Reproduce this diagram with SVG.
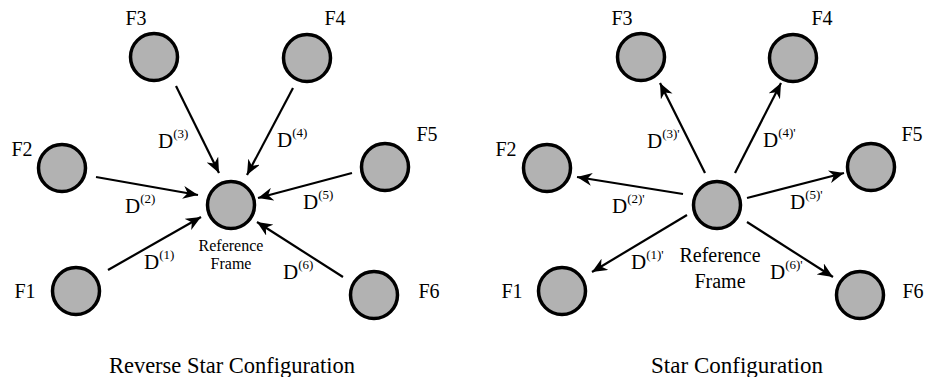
<svg xmlns="http://www.w3.org/2000/svg" width="927" height="377" viewBox="0 0 927 377">
<defs>
<style>
.node{fill:#b2b2b2;stroke:#000;stroke-width:3.5}
text{font-family:'Liberation Serif','Times New Roman','DejaVu Serif',serif;fill:#000}
.lbl{font-size:20px;text-anchor:middle}
.rf{font-size:16px;text-anchor:middle}
.d{font-size:21px}
.sup{font-size:13px}
.cap{font-size:22.5px;text-anchor:middle}
.edge{stroke:#000;stroke-width:2.2;fill:none;marker-end:url(#ah)}
</style>
<marker id="ah" markerUnits="userSpaceOnUse" markerWidth="16" markerHeight="13" refX="15" refY="6.5" orient="auto">
<path d="M0,0 L15,6.5 L0,13 L4.5,6.5 z" fill="#000"/>
</marker>
</defs>
<rect width="927" height="377" fill="#fff"/>

<g id="connectors">
<line class="edge" x1="176" y1="86" x2="219" y2="173"/>
<line class="edge" x1="293" y1="88" x2="247" y2="175"/>
<line class="edge" x1="96" y1="177" x2="198" y2="195"/>
<line class="edge" x1="352" y1="173" x2="258" y2="198"/>
<line class="edge" x1="108" y1="270" x2="201" y2="217"/>
<line class="edge" x1="343" y1="277" x2="257" y2="222"/>

<line class="edge" x1="705" y1="173" x2="660" y2="83"/>
<line class="edge" x1="735" y1="173" x2="781" y2="83"/>
<line class="edge" x1="683" y1="194" x2="577" y2="177"/>
<line class="edge" x1="747" y1="198" x2="844" y2="173"/>
<line class="edge" x1="687" y1="215" x2="592" y2="272"/>
<line class="edge" x1="747" y1="222" x2="833" y2="277"/>
</g>

<g id="L-center"><circle class="node" cx="231" cy="205" r="23.5"/>
<text class="rf" x="231" y="251">Reference</text>
<text class="rf" x="231" y="269">Frame</text></g>
<g id="L-F1"><circle class="node" cx="76" cy="291" r="23.5"/><text class="lbl" x="25" y="298">F1</text></g>
<g id="L-F2"><circle class="node" cx="62" cy="168" r="23.5"/><text class="lbl" x="22" y="156">F2</text></g>
<g id="L-F3"><circle class="node" cx="154" cy="57" r="23.5"/><text class="lbl" x="136" y="25">F3</text></g>
<g id="L-F4"><circle class="node" cx="307" cy="58" r="23.5"/><text class="lbl" x="335" y="25">F4</text></g>
<g id="L-F5"><circle class="node" cx="385" cy="167" r="23.5"/><text class="lbl" x="427" y="141">F5</text></g>
<g id="L-F6"><circle class="node" cx="374" cy="295" r="23.5"/><text class="lbl" x="429" y="298">F6</text></g>

<g id="L-labels">
<text class="d" x="158" y="148">D<tspan class="sup" dy="-10">(3)</tspan></text>
<text class="d" x="277" y="147">D<tspan class="sup" dy="-10">(4)</tspan></text>
<text class="d" x="125" y="213">D<tspan class="sup" dy="-10">(2)</tspan></text>
<text class="d" x="303" y="209">D<tspan class="sup" dy="-10">(5)</tspan></text>
<text class="d" x="144" y="269">D<tspan class="sup" dy="-10">(1)</tspan></text>
<text class="d" x="283" y="279">D<tspan class="sup" dy="-10">(6)</tspan></text>
</g>
<text class="cap" x="232" y="373">Reverse Star Configuration</text>

<g id="R-center"><circle class="node" cx="717" cy="205" r="23.5"/>
<text class="lbl" x="720" y="262">Reference</text>
<text class="lbl" x="720" y="288">Frame</text></g>
<g id="R-F1"><circle class="node" cx="562" cy="291" r="23.5"/><text class="lbl" x="512" y="298">F1</text></g>
<g id="R-F2"><circle class="node" cx="547" cy="168" r="23.5"/><text class="lbl" x="506" y="156">F2</text></g>
<g id="R-F3"><circle class="node" cx="641" cy="57" r="23.5"/><text class="lbl" x="622" y="25">F3</text></g>
<g id="R-F4"><circle class="node" cx="793" cy="58" r="23.5"/><text class="lbl" x="822" y="25">F4</text></g>
<g id="R-F5"><circle class="node" cx="871" cy="167" r="23.5"/><text class="lbl" x="912" y="141">F5</text></g>
<g id="R-F6"><circle class="node" cx="860" cy="295" r="23.5"/><text class="lbl" x="913" y="298">F6</text></g>

<g id="R-labels">
<text class="d" x="647" y="148">D<tspan class="sup" dy="-10">(3)'</tspan></text>
<text class="d" x="763" y="147">D<tspan class="sup" dy="-10">(4)'</tspan></text>
<text class="d" x="612" y="213">D<tspan class="sup" dy="-10">(2)'</tspan></text>
<text class="d" x="790" y="209">D<tspan class="sup" dy="-10">(5)'</tspan></text>
<text class="d" x="631" y="269">D<tspan class="sup" dy="-10">(1)'</tspan></text>
<text class="d" x="770" y="279">D<tspan class="sup" dy="-10">(6)'</tspan></text>
</g>
<text class="cap" x="737" y="373" style="font-size:23px">Star Configuration</text>
</svg>
